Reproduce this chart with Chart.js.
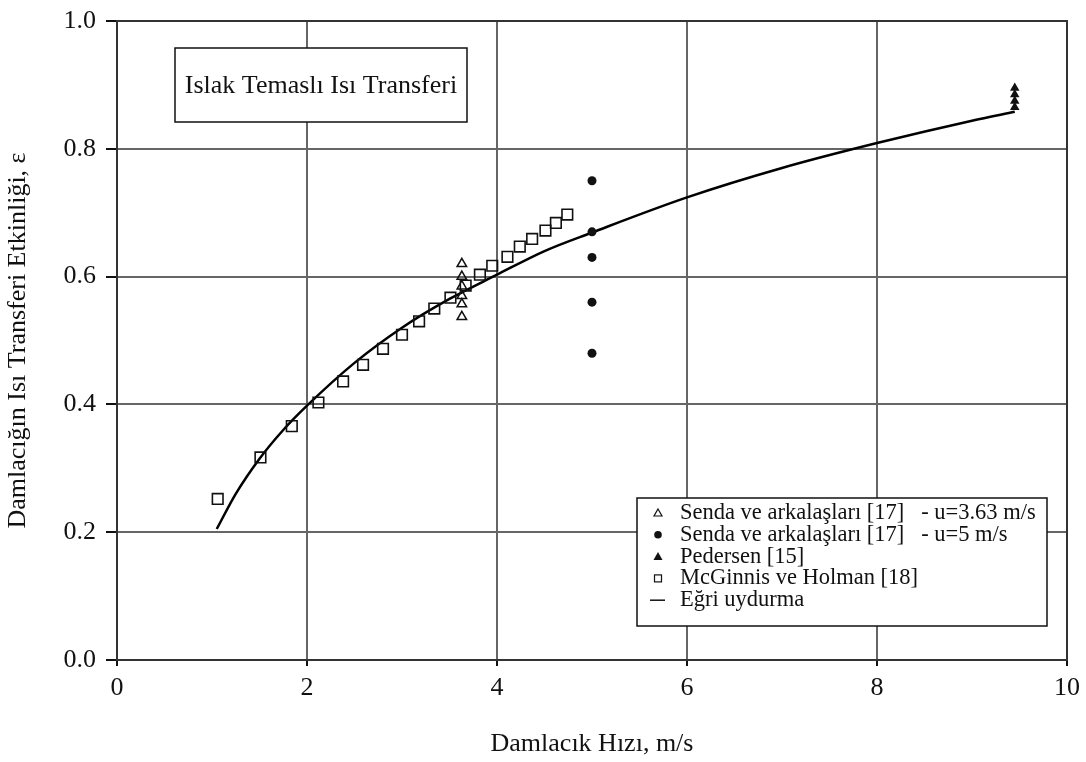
<!DOCTYPE html>
<html>
<head>
<meta charset="utf-8">
<script src="https://cdn.jsdelivr.net/npm/chart.js@4.4.0/dist/chart.umd.min.js"></script>
<style>
  html, body { margin: 0; padding: 0; background: #fff; }
</style>
</head>
<body>
<canvas id="chart" width="1086" height="762"></canvas>
<script>
// ölçüm verileri
const sendaSlowU = 3.63;
const sendaSlowEff = [0.62, 0.60, 0.585, 0.57, 0.557, 0.537];

const sendaFastU = 5;
const sendaFastEff = [0.75, 0.67, 0.63, 0.56, 0.48];

const pedersenU = 9.45;
const pedersenEff = [0.895, 0.885, 0.875, 0.865];

const mcginnisU   = [1.06, 1.51, 1.84, 2.12, 2.38, 2.59, 2.80, 3.00, 3.18, 3.34, 3.51, 3.67, 3.82, 3.95, 4.11, 4.24, 4.37, 4.51, 4.62, 4.74];
const mcginnisEff = [0.252, 0.317, 0.366, 0.403, 0.436, 0.462, 0.487, 0.509, 0.530, 0.550, 0.567, 0.586, 0.603, 0.617, 0.631, 0.647, 0.659, 0.672, 0.684, 0.697];

// eğri uydurma
const fitU   = [1.05, 1.25, 1.5, 1.75, 2, 2.5, 3, 3.5, 4, 4.5, 5, 6, 7, 8, 9, 9.45];
const fitEff = [0.205, 0.26, 0.315, 0.36, 0.398, 0.465, 0.52, 0.565, 0.603, 0.64, 0.669, 0.724, 0.77, 0.809, 0.844, 0.858];

const xTicks = [0, 2, 4, 6, 8, 10];
const yTicks = [0, 0.2, 0.4, 0.6, 0.8, 1.0];

const legendLabels = [
  'Senda ve arkalaşları [17]   - u=3.63 m/s',
  'Senda ve arkalaşları [17]   - u=5 m/s',
  'Pedersen [15]',
  'McGinnis ve Holman [18]',
  'Eğri uydurma'
];
const boxTitle = 'Islak Temaslı Isı Transferi';

const FONT = "'Liberation Serif', 'Times New Roman', serif";

function pts(xs, ys) {
  return ys.map((y, i) => ({ x: Array.isArray(xs) ? xs[i] : xs, y: y }));
}

// çerçeve, başlık kutusu ve açıklama kutusu
const boxesPlugin = {
  id: 'boxes',
  afterDraw(chart) {
    const ctx = chart.ctx;
    const a = chart.chartArea;
    ctx.save();

    ctx.strokeStyle = '#333';
    ctx.lineWidth = 2;
    ctx.strokeRect(a.left, a.top, a.right - a.left, a.bottom - a.top);

    // başlık kutusu
    ctx.fillStyle = '#fff';
    ctx.fillRect(175, 48, 292, 74);
    ctx.strokeStyle = '#111';
    ctx.lineWidth = 1.5;
    ctx.strokeRect(175, 48, 292, 74);
    ctx.fillStyle = '#111';
    ctx.font = '26px ' + FONT;
    ctx.textAlign = 'center';
    ctx.textBaseline = 'middle';
    ctx.fillText(boxTitle, 321, 86);

    // açıklama kutusu
    ctx.fillStyle = '#fff';
    ctx.fillRect(637, 498, 410, 128);
    ctx.strokeStyle = '#111';
    ctx.lineWidth = 1.5;
    ctx.strokeRect(637, 498, 410, 128);

    ctx.font = '22.5px ' + FONT;
    ctx.textAlign = 'left';
    ctx.textBaseline = 'middle';
    const mx = 658;
    legendLabels.forEach((label, i) => {
      const y = 513 + i * 21.8;
      ctx.strokeStyle = '#111';
      ctx.fillStyle = '#111';
      ctx.lineWidth = 1.2;
      if (i === 0) {
        ctx.beginPath();
        ctx.moveTo(mx, y - 4); ctx.lineTo(mx + 4, y + 3); ctx.lineTo(mx - 4, y + 3); ctx.closePath();
        ctx.stroke();
      } else if (i === 1) {
        ctx.beginPath(); ctx.arc(mx, y, 3.8, 0, Math.PI * 2); ctx.fill();
      } else if (i === 2) {
        ctx.beginPath();
        ctx.moveTo(mx, y - 4.5); ctx.lineTo(mx + 4.5, y + 3.5); ctx.lineTo(mx - 4.5, y + 3.5); ctx.closePath();
        ctx.fill();
      } else if (i === 3) {
        ctx.strokeRect(mx - 3.5, y - 3.5, 7, 7);
      } else {
        ctx.lineWidth = 1.5;
        ctx.beginPath(); ctx.moveTo(mx - 8, y); ctx.lineTo(mx + 7, y); ctx.stroke();
      }
      ctx.fillStyle = '#111';
      ctx.fillText(label, 680, y);
    });
    ctx.restore();
  }
};

new Chart(document.getElementById('chart'), {
  type: 'scatter',
  data: {
    datasets: [
      {
        label: legendLabels[0],
        data: pts(sendaSlowU, sendaSlowEff),
        pointStyle: 'triangle',
        pointRadius: 5.5,
        pointBorderWidth: 1.5,
        borderColor: '#111',
        backgroundColor: 'rgba(255,255,255,0)',
        order: 1
      },
      {
        label: legendLabels[1],
        data: pts(sendaFastU, sendaFastEff),
        pointStyle: 'circle',
        pointRadius: 4.5,
        pointBorderWidth: 0,
        borderColor: '#111',
        backgroundColor: '#111',
        order: 1
      },
      {
        label: legendLabels[2],
        data: pts(pedersenU, pedersenEff),
        pointStyle: 'triangle',
        pointRadius: 5.5,
        pointBorderWidth: 0,
        borderColor: '#111',
        backgroundColor: '#111',
        order: 1
      },
      {
        label: legendLabels[3],
        data: pts(mcginnisU, mcginnisEff),
        pointStyle: 'rect',
        pointRadius: 7.5,
        pointBorderWidth: 1.6,
        borderColor: '#111',
        backgroundColor: 'rgba(255,255,255,0)',
        order: 1
      },
      {
        label: legendLabels[4],
        data: pts(fitU, fitEff),
        showLine: true,
        pointRadius: 0,
        borderColor: '#000',
        borderWidth: 2.5,
        cubicInterpolationMode: 'monotone',
        order: 2
      }
    ]
  },
  options: {
    responsive: false,
    animation: false,
    events: [],
    layout: { padding: { top: 21, right: 19, left: 0, bottom: 0 } },
    plugins: {
      legend: { display: false },
      tooltip: { enabled: false }
    },
    scales: {
      x: {
        type: 'linear',
        min: 0,
        max: 10,
        afterBuildTicks: s => { s.ticks = xTicks.map(v => ({ value: v })); },
        afterFit: s => { s.height = 102; s.paddingLeft = 0; s.paddingRight = 0; },
        grid: { color: '#666', lineWidth: 2, tickLength: 6, tickColor: '#111' },
        border: { color: '#111', width: 2 },
        ticks: {
          color: '#111',
          padding: 9,
          maxRotation: 0,
          font: { family: FONT, size: 26, lineHeight: 1 },
          callback: v => String(v)
        },
        title: {
          display: true,
          text: 'Damlacık Hızı, m/s',
          color: '#111',
          font: { family: FONT, size: 26 },
          padding: { top: 0, bottom: 2 }
        }
      },
      y: {
        type: 'linear',
        min: 0,
        max: 1,
        afterBuildTicks: s => { s.ticks = yTicks.map(v => ({ value: v })); },
        afterFit: s => { s.width = 117; s.paddingTop = 0; s.paddingBottom = 0; },
        grid: { color: '#666', lineWidth: 2, tickLength: 11, tickColor: '#111' },
        border: { color: '#111', width: 2 },
        ticks: {
          color: '#111',
          padding: 10,
          font: { family: FONT, size: 26, lineHeight: 1 },
          callback: v => v.toFixed(1)
        },
        title: {
          display: true,
          text: 'Damlacığın Isı Transferi Etkinliği, ε',
          color: '#111',
          font: { family: FONT, size: 26 },
          padding: { top: 3, bottom: 0 }
        }
      }
    }
  },
  plugins: [boxesPlugin]
});
</script>
</body>
</html>
